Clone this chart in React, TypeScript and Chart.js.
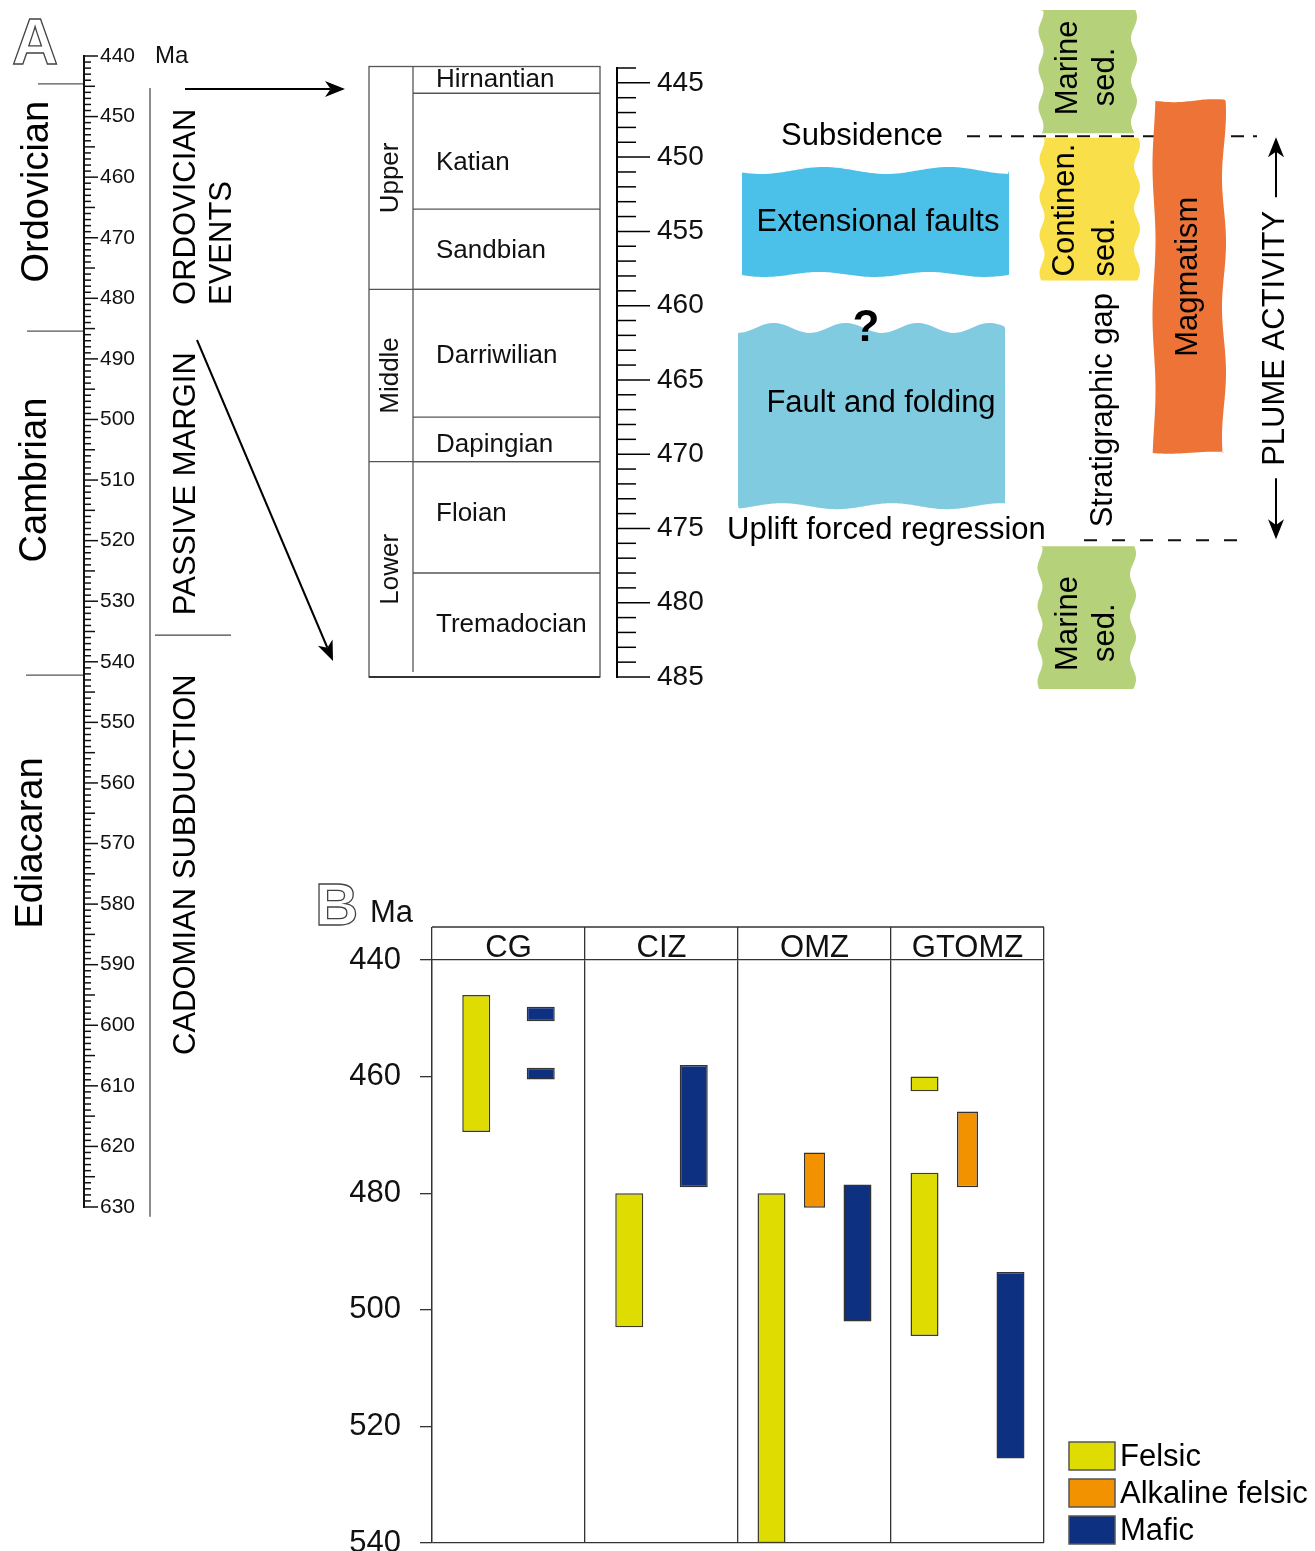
import React, { useEffect, useRef } from 'react';
import { Chart, registerables } from 'chart.js';

Chart.register(...registerables);

const FONT = '"Liberation Sans", Arial, Helvetica, sans-serif';
Chart.defaults.font.family = FONT;

// ===== Panel A – geological time scale (Ma) =====
const TIMESCALE_MIN = 440;
const TIMESCALE_MAX = 630;
const TIMESCALE_LABELS = [440, 450, 460, 470, 480, 490, 500, 510, 520, 530, 540, 550, 560, 570, 580, 590, 600, 610, 620, 630];
const PERIOD_NAMES = ['Ordovician', 'Cambrian', 'Ediacaran'];
const PERIOD_TOPS = [444.6, 485.4, 542.2];
const PERIOD_LABEL_AGES = [462.4, 510.0, 569.9];
const EVENT_LABELS = [['ORDOVICIAN', 'EVENTS'], ['PASSIVE MARGIN'], ['CADOMIAN SUBDUCTION']];
const EVENT_LABEL_STARTS = [481.1, 532.3, 604.9];
const EVENT_DIVIDER_AGE = 535.6;
const EVENT_COLUMN_RANGE = [445.3, 631.6];

// ===== Panel A – Ordovician series and stages =====
const STAGE_MIN = 444;
const STAGE_MAX = 485;
const STAGE_TICKS = [445, 450, 455, 460, 465, 470, 475, 480, 485];
const SERIES_NAMES = ['Upper', 'Middle', 'Lower'];
const SERIES_BOUNDS = [443.9, 458.9, 470.5, 485.0];
const STAGE_NAMES = ['Hirnantian', 'Katian', 'Sandbian', 'Darriwilian', 'Dapingian', 'Floian', 'Tremadocian'];
const STAGE_BOUNDS = [443.9, 445.7, 453.5, 458.9, 467.5, 470.5, 478.0, 485.0];

// ===== Panel A – Ordovician events =====
const SUBSIDENCE_AGE = 448.6;
const UPLIFT_AGE = 475.8;
const TECTONIC_NAMES = ['Extensional faults', 'Fault and folding'];
const TECTONIC_TOPS = [450.9, 461.5];
const TECTONIC_BASES = [457.9, 473.5];
const SED_NAMES = [['Marine', 'sed.'], ['Continen.', 'sed.'], ['Marine', 'sed.']];
const SED_TOPS = [440.1, 448.7, 476.2];
const SED_BASES = [448.4, 458.3, 485.8];
const MAGMATISM_RANGE = [446.2, 469.9];

// ===== Panel B – magmatic ages (Ma) =====
const B_CATEGORIES = ['CG', 'CIZ', 'OMZ', 'GTOMZ'];
const B_TICKS = [440, 460, 480, 500, 520, 540];
const B_SERIES = ['Felsic', 'Alkaline felsic', 'Mafic'];
const FELSIC = [[446, 469.5], [480, 503], [480, 540], [476.5, 504.5]];
const FELSIC_EXTRA = [null, null, null, [460, 462.5]];
const ALKALINE_FELSIC = [null, null, [473, 482.5], [466, 479]];
const MAFIC = [[448, 450.5], [458, 479], [478.5, 502], [493.5, 525.5]];
const MAFIC_EXTRA = [[458.5, 460.5], null, null, null];

// ===== styles =====
const C_FELSIC = '#DEDC00';
const C_ALKALINE = '#F39200';
const C_MAFIC = '#0D3080';
const C_MARINE = '#B5D17A';
const C_CONTINENTAL = '#F9E04B';
const C_MAGMA = '#ED7436';
const C_EXTENSION = '#4BC0E8';
const C_FOLDING = '#80CBE0';
const SED_COLORS = [C_MARINE, C_CONTINENTAL, C_MARINE];
const TECTONIC_COLORS = [C_EXTENSION, C_FOLDING];
const STAGE_LABEL_NUDGE = [0, 12, 2, 3, 5, -3, 0];

const A2_LEFT = 360;

// ---------- drawing helpers ----------
function seg(ctx: any, x0: number, y0: number, x1: number, y1: number) {
  ctx.beginPath();
  ctx.moveTo(x0, y0);
  ctx.lineTo(x1, y1);
  ctx.stroke();
}
function hText(ctx: any, s: string, x: number, y: number, size: number, align: any = 'left', weight = 'normal') {
  ctx.font = `${weight} ${size}px ${FONT}`;
  ctx.textAlign = align;
  ctx.textBaseline = 'middle';
  ctx.fillText(s, x, y);
}
function vText(ctx: any, s: string, x: number, y: number, size: number, align: any = 'center') {
  ctx.save();
  ctx.translate(x, y);
  ctx.rotate(-Math.PI / 2);
  ctx.font = `${size}px ${FONT}`;
  ctx.textAlign = align;
  ctx.textBaseline = 'middle';
  ctx.fillText(s, 0, 0);
  ctx.restore();
}
function arrow(ctx: any, x0: number, y0: number, x1: number, y1: number, head = 17, half = 6.5) {
  const a = Math.atan2(y1 - y0, x1 - x0);
  const c = Math.cos(a), s = Math.sin(a);
  const bx = x1 - head * c, by = y1 - head * s;
  const nx = x1 - head * 0.72 * c, ny = y1 - head * 0.72 * s;
  seg(ctx, x0, y0, nx, ny);
  ctx.beginPath();
  ctx.moveTo(x1, y1);
  ctx.lineTo(bx + half * s, by - half * c);
  ctx.lineTo(nx, ny);
  ctx.lineTo(bx - half * s, by + half * c);
  ctx.closePath();
  ctx.fill();
}
type Wave = [number, number, number];
function blob(ctx: any, x0: number, x1: number, y0: number, y1: number, w: { t: Wave; r: Wave; b: Wave; l: Wave }) {
  const f = (p: Wave, t: number) => p[0] * Math.sin((t / p[1]) * 2 * Math.PI + p[2]);
  const pts: number[][] = [];
  for (let x = x0; x <= x1; x += 2) pts.push([x, y0 + f(w.t, x - x0)]);
  for (let y = y0; y <= y1; y += 2) pts.push([x1 + f(w.r, y - y0), y]);
  for (let x = x1; x >= x0; x -= 2) pts.push([x, y1 + f(w.b, x - x0)]);
  for (let y = y1; y >= y0; y -= 2) pts.push([x0 + f(w.l, y - y0), y]);
  ctx.beginPath();
  pts.forEach((p, i) => (i ? ctx.lineTo(p[0], p[1]) : ctx.moveTo(p[0], p[1])));
  ctx.closePath();
  ctx.fill();
}
const FLAT: Wave = [0, 100, 0];

// ---------- plugins ----------
const timescalePlugin = {
  id: 'timescaleDecor',
  afterDraw(chart: any) {
    const { ctx } = chart;
    const ys = chart.scales.y;
    const Y = (v: number) => ys.getPixelForValue(v);
    const ax = ys.left;
    ctx.save();
    ctx.strokeStyle = '#111';
    ctx.lineWidth = 1.5;
    for (let v = TIMESCALE_MIN; v <= TIMESCALE_MAX; v += 1) {
      const len = v % 10 === 0 ? 14 : v % 5 === 0 ? 11 : 7;
      seg(ctx, ax, Y(v), ax + len, Y(v));
    }
    ctx.fillStyle = '#111';
    hText(ctx, 'Ma', 155, Y(TIMESCALE_MIN), 24, 'left');

    // periods
    ctx.strokeStyle = '#555';
    ctx.lineWidth = 1.2;
    const lineLeft = [38, 27, 26];
    const labelX = [38, 36, 32];
    PERIOD_TOPS.forEach((age, i) => seg(ctx, lineLeft[i], Y(age), ax - 1, Y(age)));
    ctx.fillStyle = '#000';
    PERIOD_NAMES.forEach((n, i) => vText(ctx, n, labelX[i], Y(PERIOD_LABEL_AGES[i]), 38));

    // events column
    ctx.strokeStyle = '#666';
    ctx.lineWidth = 1.5;
    seg(ctx, 150, Y(EVENT_COLUMN_RANGE[0]), 150, Y(EVENT_COLUMN_RANGE[1]));
    ctx.strokeStyle = '#444';
    ctx.lineWidth = 1.3;
    seg(ctx, 155, Y(EVENT_DIVIDER_AGE), 231, Y(EVENT_DIVIDER_AGE));
    EVENT_LABELS.forEach((lines, i) =>
      lines.forEach((ln, j) => vText(ctx, ln, 186 + j * 36, Y(EVENT_LABEL_STARTS[i]), 31, 'left'))
    );

    // arrows to the stage column
    ctx.strokeStyle = '#000';
    ctx.fillStyle = '#000';
    ctx.lineWidth = 2;
    arrow(ctx, 185, 89, 345, 89, 20, 8);
    arrow(ctx, 197, 340, 333, 661, 20, 8);

    // panel letter
    ctx.font = `bold 64px ${FONT}`;
    ctx.textAlign = 'left';
    ctx.textBaseline = 'alphabetic';
    ctx.lineWidth = 1.3;
    ctx.strokeStyle = '#444';
    ctx.strokeText('A', 12, 64);
    ctx.restore();
  },
};

const stagesPlugin = {
  id: 'stagesDecor',
  afterDraw(chart: any) {
    const { ctx } = chart;
    const ys = chart.scales.y;
    const Y = (v: number) => ys.getPixelForValue(v);
    ctx.save();
    ctx.translate(-A2_LEFT, 0);
    const ax = ys.left + A2_LEFT;

    // 1 Ma ticks
    ctx.strokeStyle = '#000';
    ctx.lineWidth = 1.5;
    for (let v = STAGE_MIN; v <= STAGE_MAX; v += 1) {
      seg(ctx, ax, Y(v), ax + (v % 5 === 0 ? 33 : 19), Y(v));
    }

    // series / stage table
    const L = 369, M = 413, R = 600;
    const top = Y(SERIES_BOUNDS[0]);
    const bot = Y(SERIES_BOUNDS[SERIES_BOUNDS.length - 1]);
    ctx.strokeStyle = '#555';
    ctx.lineWidth = 1.3;
    ctx.strokeRect(L, top, R - L, bot - top);
    seg(ctx, M, top, M, bot - 5);
    SERIES_BOUNDS.slice(1, -1).forEach((b) => seg(ctx, L, Y(b), R, Y(b)));
    STAGE_BOUNDS.slice(1, -1).forEach((b) => seg(ctx, M, Y(b), R, Y(b)));
    ctx.strokeStyle = '#333';
    ctx.lineWidth = 2;
    seg(ctx, L, bot, R, bot);
    ctx.fillStyle = '#111';
    STAGE_NAMES.forEach((n, i) =>
      hText(ctx, n, 436, (Y(STAGE_BOUNDS[i]) + Y(STAGE_BOUNDS[i + 1])) / 2 + STAGE_LABEL_NUDGE[i], 26, 'left')
    );
    SERIES_NAMES.forEach((n, i) =>
      vText(ctx, n, 391, (Y(SERIES_BOUNDS[i]) + Y(SERIES_BOUNDS[i + 1])) / 2, 26)
    );

    // dashed event lines
    ctx.strokeStyle = '#111';
    ctx.lineWidth = 2;
    ctx.setLineDash([13, 9]);
    seg(ctx, 967, Y(SUBSIDENCE_AGE), 1257, Y(SUBSIDENCE_AGE));
    ctx.setLineDash([13, 15]);
    seg(ctx, 1084, Y(UPLIFT_AGE), 1250, Y(UPLIFT_AGE));
    ctx.setLineDash([]);

    // tectonic blocks
    const tecX = [[742, 1009], [738, 1005]];
    const tecWaves: { t: Wave; r: Wave; b: Wave; l: Wave }[] = [
      { t: [3.5, 125, 0.6], r: FLAT, b: [2.5, 110, 0.3], l: FLAT },
      { t: [5, 72, 1.6], r: FLAT, b: [3, 110, 2.2], l: FLAT },
    ];
    TECTONIC_NAMES.forEach((n, i) => {
      ctx.fillStyle = TECTONIC_COLORS[i];
      blob(ctx, tecX[i][0], tecX[i][1], Y(TECTONIC_TOPS[i]), Y(TECTONIC_BASES[i]), tecWaves[i]);
    });
    ctx.fillStyle = '#000';
    hText(ctx, TECTONIC_NAMES[0], 878, (Y(TECTONIC_TOPS[0]) + Y(TECTONIC_BASES[0])) / 2, 31, 'center');
    hText(ctx, TECTONIC_NAMES[1], 881, (Y(TECTONIC_TOPS[1]) + Y(TECTONIC_BASES[1])) / 2 - 14, 31, 'center');
    hText(ctx, '?', 866, Y(TECTONIC_TOPS[1]) + 1, 44, 'center', 'bold');
    hText(ctx, 'Subsidence', 781, Y(SUBSIDENCE_AGE), 31, 'left');
    hText(ctx, 'Uplift forced regression', 727, Y(UPLIFT_AGE) - 10, 31, 'left');

    // sediment blocks
    const sedX = [[1041, 1134], [1042, 1137], [1040, 1133]];
    SED_NAMES.forEach((lines, i) => {
      ctx.fillStyle = SED_COLORS[i];
      blob(ctx, sedX[i][0], sedX[i][1], Y(SED_TOPS[i]), Y(SED_BASES[i]), {
        t: FLAT, r: [3, 42, 0.5], b: FLAT, l: [2.5, 38, 1.2],
      });
    });
    ctx.fillStyle = '#000';
    SED_NAMES.forEach((lines, i) => {
      const b = Y(SED_BASES[i]);
      const isCont = i === 1;
      vText(ctx, lines[0], isCont ? 1065 : 1068, b - (isCont ? 4 : 18), 31, 'left');
      vText(ctx, lines[1], 1105, b - (isCont ? 4 : 27), 31, 'left');
    });

    // magmatism
    ctx.fillStyle = C_MAGMA;
    blob(ctx, 1154, 1224, Y(MAGMATISM_RANGE[0]), Y(MAGMATISM_RANGE[1]), {
      t: [1.5, 80, 0], r: [2, 130, 1], b: [1, 90, 0.5], l: [1.5, 150, 2],
    });
    ctx.fillStyle = '#000';
    vText(ctx, 'Magmatism', 1188, (Y(MAGMATISM_RANGE[0]) + Y(MAGMATISM_RANGE[1])) / 2, 31);

    // stratigraphic gap + plume activity
    vText(ctx, 'Stratigraphic gap', 1103, Y(UPLIFT_AGE) - 13, 31, 'left');
    const mid = (Y(SUBSIDENCE_AGE) + Y(UPLIFT_AGE)) / 2;
    vText(ctx, 'PLUME ACTIVITY', 1275, mid, 31);
    ctx.strokeStyle = '#000';
    ctx.lineWidth = 2;
    arrow(ctx, 1276, mid - 141, 1276, Y(SUBSIDENCE_AGE) + 1, 20, 8);
    arrow(ctx, 1276, mid + 140, 1276, Y(UPLIFT_AGE) - 1, 20, 8);
    ctx.restore();
  },
};

const agesPlugin = {
  id: 'agesDecor',
  afterDraw(chart: any) {
    const { ctx, chartArea } = chart;
    const xs = chart.scales.x;
    ctx.save();
    ctx.strokeStyle = '#333';
    ctx.lineWidth = 1.3;
    const headerTop = chartArea.top - xs.options.grid.tickLength;
    seg(ctx, chartArea.left, headerTop, chartArea.right, headerTop);

    ctx.font = `bold 60px ${FONT}`;
    ctx.textAlign = 'left';
    ctx.textBaseline = 'alphabetic';
    ctx.lineWidth = 1.3;
    ctx.strokeStyle = '#444';
    ctx.strokeText('B', 15, 65);
    ctx.fillStyle = '#111';
    ctx.font = `31px ${FONT}`;
    ctx.fillText('Ma', 70, 62);

    // legend
    const items = chart.data.datasets.filter((d: any) => d.inLegend);
    items.forEach((d: any, i: number) => {
      const y = 582 + i * 37;
      ctx.fillStyle = d.backgroundColor;
      ctx.fillRect(769, y, 46, 28);
      ctx.strokeStyle = '#555';
      ctx.lineWidth = 1.5;
      ctx.strokeRect(769, y, 46, 28);
      ctx.fillStyle = '#000';
      hText(ctx, d.label, 820, y + 15, 31, 'left');
    });
    ctx.restore();
  },
};

// ---------- chart configs ----------
function makeTimescaleConfig(): any {
  return {
    type: 'scatter',
    data: { datasets: [] },
    options: {
      animation: false,
      responsive: false,
      devicePixelRatio: 1,
      events: [],
      layout: { padding: { top: 56, bottom: 33, left: 0, right: 0 } },
      plugins: { legend: { display: false }, tooltip: { enabled: false } },
      scales: {
        x: { type: 'linear', display: false, min: 0, max: 1 },
        y: {
          type: 'linear',
          position: 'right',
          reverse: true,
          min: TIMESCALE_MIN,
          max: TIMESCALE_MAX,
          afterBuildTicks: (s: any) => {
            s.ticks = TIMESCALE_LABELS.map((v) => ({ value: v }));
          },
          afterFit: (s: any) => {
            s.width = 360 - 84;
          },
          grid: { display: false, drawTicks: true, tickLength: 14 },
          border: { display: true, color: '#111', width: 2 },
          ticks: { padding: 2, autoSkip: false, color: '#111', font: { size: 21, family: FONT } },
        },
      },
    },
    plugins: [timescalePlugin],
  };
}

function makeStagesConfig(): any {
  return {
    type: 'scatter',
    data: { datasets: [] },
    options: {
      animation: false,
      responsive: false,
      devicePixelRatio: 1,
      events: [],
      layout: { padding: { top: 68, bottom: 43, left: 0, right: 0 } },
      plugins: { legend: { display: false }, tooltip: { enabled: false } },
      scales: {
        x: { type: 'linear', display: false, min: 0, max: 1 },
        y: {
          type: 'linear',
          position: 'right',
          reverse: true,
          min: STAGE_MIN,
          max: STAGE_MAX,
          afterBuildTicks: (s: any) => {
            s.ticks = STAGE_TICKS.map((v) => ({ value: v }));
          },
          afterFit: (s: any) => {
            s.width = 955 - (617 - A2_LEFT);
          },
          grid: { display: false, drawTicks: true, tickLength: 33 },
          border: { display: true, color: '#000', width: 2 },
          ticks: { padding: 7, autoSkip: false, color: '#111', font: { size: 28, family: FONT } },
        },
      },
    },
    plugins: [stagesPlugin],
  };
}

function makeAgesConfig(): any {
  const ds = (label: string, data: any[], stack: string, color: string, inLegend: boolean, extra: any = {}) => ({
    label,
    data,
    stack,
    backgroundColor: color,
    borderColor: '#333',
    borderWidth: 1.5,
    borderSkipped: false,
    inLegend,
    ...extra,
  });
  return {
    type: 'bar',
    data: {
      labels: B_CATEGORIES,
      datasets: [
        ds(B_SERIES[0], FELSIC, 'felsic', C_FELSIC, true, { borderColor: '#3c3c28' }),
        ds(B_SERIES[0], FELSIC_EXTRA, 'felsic', C_FELSIC, false, { borderColor: '#3c3c28' }),
        ds(B_SERIES[1], ALKALINE_FELSIC, 'alkaline', C_ALKALINE, true, { maxBarThickness: 21 }),
        ds(B_SERIES[2], MAFIC, 'mafic', C_MAFIC, true),
        ds(B_SERIES[2], MAFIC_EXTRA, 'mafic', C_MAFIC, false),
      ],
    },
    options: {
      animation: false,
      responsive: false,
      devicePixelRatio: 1,
      events: [],
      layout: { padding: { top: 0, bottom: 39, left: 0, right: 271 } },
      datasets: {
        bar: { skipNull: true, categoryPercentage: 0.843, barPercentage: 0.651, maxBarThickness: 28 },
      },
      plugins: { legend: { display: false }, tooltip: { enabled: false } },
      scales: {
        x: {
          type: 'category',
          position: 'top',
          offset: true,
          afterFit: (s: any) => {
            s.height = 100;
          },
          grid: { offset: true, color: '#333', lineWidth: 1.3, tickLength: 33, drawTicks: true },
          border: { display: true, color: '#333', width: 1.3 },
          ticks: { padding: -40, color: '#111', font: { size: 31, family: FONT } },
        },
        y: {
          type: 'linear',
          position: 'left',
          reverse: true,
          stacked: false,
          min: 440,
          max: 540,
          afterBuildTicks: (s: any) => {
            s.ticks = B_TICKS.map((v) => ({ value: v }));
          },
          afterFit: (s: any) => {
            s.width = 132;
          },
          grid: {
            color: (c: any) => (c.tick && c.tick.value === B_TICKS[B_TICKS.length - 1] ? '#333' : 'rgba(0,0,0,0)'),
            tickColor: '#333',
            lineWidth: 1.3,
            tickLength: 12,
            drawTicks: true,
          },
          border: { display: true, color: '#333', width: 1.3 },
          ticks: { padding: 19, autoSkip: false, color: '#111', font: { size: 31, family: FONT } },
        },
      },
    },
    plugins: [agesPlugin],
  };
}

function ChartCanvas({ left, top, width, height, config }: any) {
  const ref = useRef<HTMLCanvasElement>(null);
  useEffect(() => {
    const chart = new Chart(ref.current as HTMLCanvasElement, config());
    return () => chart.destroy();
  }, []);
  return (
    <canvas
      ref={ref}
      width={width}
      height={height}
      style={{ position: 'absolute', left, top, width, height, display: 'block' }}
    />
  );
}

export default function App() {
  return (
    <div
      style={{
        position: 'absolute',
        left: 0,
        top: 0,
        width: 1315,
        height: 1551,
        overflow: 'hidden',
        background: '#fff',
      }}
    >
      <ChartCanvas left={0} top={0} width={360} height={1240} config={makeTimescaleConfig} />
      <ChartCanvas left={A2_LEFT} top={0} width={955} height={720} config={makeStagesConfig} />
      <ChartCanvas left={300} top={860} width={1015} height={722} config={makeAgesConfig} />
    </div>
  );
}
